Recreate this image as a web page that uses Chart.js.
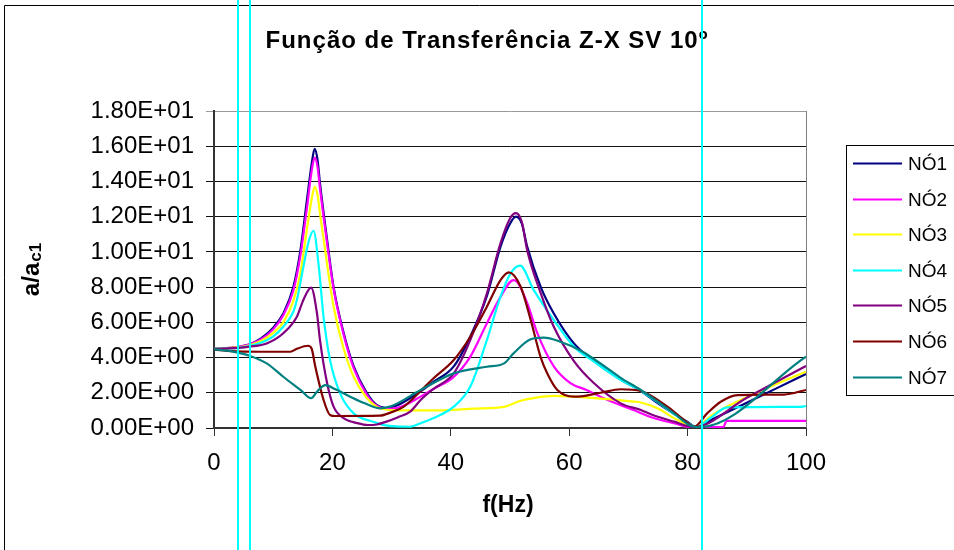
<!DOCTYPE html>
<html>
<head>
<meta charset="utf-8">
<script src="https://cdn.jsdelivr.net/npm/chart.js@4.4.1/dist/chart.umd.min.js"></script>
<style>
  html, body { margin: 0; padding: 0; background: #fff; }
  canvas { display: block; }
</style>
</head>
<body>
<canvas id="tf-chart" width="954" height="550"></canvas>
<script>
// frequency (Hz) / amplitude ratio pairs
const no1 = [[0,4.5],[4,4.6],[6,4.75],[8,5.1],[10,5.7],[11.7,6.5],[13.4,8.0],[14.6,10.1],[15.7,12.95],[16.5,15.0],[17,15.85],[17.5,15.2],[17.9,13.9],[19.1,10.7],[20.2,8.0],[21.9,5.4],[23.6,3.5],[25.8,2.0],[27.5,1.3],[29,1.15],[31,1.3],[34.3,1.95],[37,2.6],[40.5,3.5],[43.3,5.2],[46.1,7.5],[48.4,10.3],[50,11.6],[51,12.0],[52,11.6],[52.9,10.3],[55.2,8.0],[57.4,6.5],[60.8,4.8],[64.2,3.8],[68.7,2.75],[72.1,2.1],[75,1.4],[77.7,0.8],[80,0.35],[81.5,0.05],[84,0.46],[90,1.44],[95,2.25],[100,3.07]];
const no2 = [[0,4.5],[4,4.6],[6,4.75],[8,5.05],[10,5.6],[11.7,6.4],[13.4,7.8],[14.6,9.8],[15.7,12.5],[16.5,14.6],[17,15.35],[17.5,14.8],[17.9,13.6],[19.1,10.5],[20.2,7.9],[21.9,5.3],[23.6,3.4],[25.8,1.9],[27.5,1.25],[29,1.1],[31,1.15],[34.9,1.78],[37,2.2],[40.5,2.9],[43.3,4.05],[46.1,5.95],[48.4,7.45],[50.6,8.4],[51.3,8.25],[52.9,7.1],[54.6,5.4],[57.4,3.5],[60.2,2.55],[63,2.15],[66.4,1.6],[70.9,1.02],[74,0.6],[77.7,0.27],[80.5,0.05],[86,0.05],[86.6,0.4],[100,0.4]];
const no3 = [[0,4.5],[4,4.58],[6,4.7],[8,4.95],[10,5.4],[11.7,6.0],[13.4,7.2],[14.6,8.8],[15.7,11.3],[16.5,13.0],[17,13.7],[17.5,13.2],[17.9,12.2],[19.1,9.3],[20.2,6.9],[21.9,4.5],[23.6,2.9],[25.8,1.7],[27.5,1.2],[29,1.05],[32,1.0],[38,1.0],[44,1.1],[49,1.2],[51.8,1.55],[54,1.7],[57.4,1.82],[64.2,1.7],[70.9,1.5],[72.1,1.45],[74.9,1.12],[78.3,0.45],[81.3,0.05],[84,0.7],[86,1.1],[90,1.75],[95,2.5],[100,3.2]];
const no4 = [[0,4.5],[4,4.55],[6,4.65],[8,4.85],[10,5.2],[11.7,5.75],[13.4,6.6],[14,7.27],[15.1,9.16],[16,10.6],[16.8,11.2],[17.7,9.16],[18.5,6.32],[19.6,3.86],[21.3,1.97],[23.6,0.83],[26.9,0.36],[29,0.15],[33,0.07],[34.9,0.27],[37,0.55],[40.5,1.21],[43.3,2.35],[46.1,5.0],[48.4,7.46],[50.1,8.78],[51.7,9.22],[54,7.84],[57.4,6.13],[60.8,4.62],[64.2,3.77],[68.7,2.73],[72.1,2.1],[75,1.45],[77.7,0.8],[80,0.3],[81.5,0.05],[84,0.6],[86.7,1.17],[99,1.2],[100,1.25]];
const no5 = [[0,4.5],[4,4.55],[6,4.62],[8.9,4.8],[11.7,5.38],[14,6.32],[15.1,7.27],[16.4,7.97],[17.4,6.5],[17.9,5.0],[19.1,2.55],[20.2,1.21],[21.9,0.56],[24.2,0.28],[26,0.17],[27.5,0.2],[29,0.35],[31,0.6],[33.2,0.95],[34.9,1.59],[37,2.2],[40.5,3.1],[43.3,5.0],[46.1,7.65],[48.4,10.5],[50,11.9],[51,12.2],[52,11.7],[52.9,10.1],[55.2,7.65],[57.4,5.75],[60.8,3.8],[64.2,2.54],[68.7,1.4],[72.1,1.02],[74,0.75],[77.7,0.36],[81,0.05],[90,1.72],[100,3.52]];
const no6 = [[0,4.45],[3,4.36],[8,4.33],[12.9,4.33],[14,4.5],[15.9,4.67],[16.5,4.5],[17.1,3.5],[18.5,1.6],[19.6,0.74],[20.5,0.68],[28,0.7],[30,0.9],[32,1.2],[34.9,2.1],[37,2.8],[40.5,3.86],[43.3,5.18],[46.1,6.89],[48.4,8.4],[49.8,8.84],[51.8,8.02],[53.5,6.13],[55.2,4.0],[56.3,3.1],[58,2.16],[60.8,1.78],[62,1.8],[65.3,2.0],[68.7,2.2],[72.1,2.1],[76.6,1.21],[79.4,0.45],[81.1,0.08],[83.3,0.83],[85.6,1.49],[88.4,1.87],[96.3,1.9],[100,2.16]];
const no7 = [[0,4.47],[3,4.35],[6.1,4.09],[8.9,3.67],[11.7,2.91],[14.6,2.16],[16.4,1.69],[17.5,2.1],[18.8,2.44],[20.5,2.2],[23,1.78],[25.5,1.4],[28.1,1.12],[30,1.25],[34.9,2.16],[40.5,3.1],[46.1,3.48],[49,3.67],[50.6,4.24],[53.5,5.04],[55.7,5.13],[58.5,4.9],[61.9,4.4],[66.4,3.4],[68.7,2.85],[72.1,2.16],[77.7,0.83],[80.5,0.13],[82,0.05],[100,4.05]];

const seriesNames = ['NÓ1', 'NÓ2', 'NÓ3', 'NÓ4', 'NÓ5', 'NÓ6', 'NÓ7'];
const seriesData = [no1, no2, no3, no4, no5, no6, no7];
const seriesColors = ['#000080', '#FF00FF', '#FFFF00', '#00FFFF', '#800080', '#800000', '#008080'];
const markerFreqs = [4.05, 6.1, 82.45]; // vertical cyan lines (Hz)

const chartTitle = 'Função de Transferência Z-X SV 10º';
const FONT = '"Liberation Sans", Arial, sans-serif';

function fmtExp(v) {
    if (v === 0) return '0.00E+00';
    const e = Math.floor(Math.log10(Math.abs(v)) + 1e-9);
    const m = v / Math.pow(10, e);
    return m.toFixed(2) + 'E' + (e < 0 ? '-' : '+') + String(Math.abs(e)).padStart(2, '0');
}

const decor = {
    id: 'decor',
    afterDraw(chart) {
        const { ctx, chartArea: a, scales: { x } } = chart;
        ctx.save();

        // plot area right edge
        ctx.strokeStyle = '#808080';
        ctx.lineWidth = 1;
        ctx.beginPath();
        ctx.moveTo(a.right + 0.5, a.top);
        ctx.lineTo(a.right + 0.5, a.bottom);
        ctx.stroke();

        // outer frame (top + left)
        ctx.strokeStyle = '#000';
        ctx.beginPath();
        ctx.moveTo(4.5, 550);
        ctx.lineTo(4.5, 5.5);
        ctx.lineTo(954, 5.5);
        ctx.stroke();

        // titles
        ctx.fillStyle = '#000';
        ctx.textAlign = 'center';
        ctx.textBaseline = 'middle';
        ctx.font = 'bold 24px ' + FONT;
        ctx.letterSpacing = '1px';
        ctx.fillText(chartTitle, 487, 41);
        ctx.letterSpacing = '0px';
        ctx.font = 'bold 23px ' + FONT;
        ctx.fillText('f(Hz)', 508, 506);

        // y title a/a_c1, rotated
        ctx.save();
        ctx.translate(32, 270);
        ctx.rotate(-Math.PI / 2);
        ctx.textAlign = 'left';
        ctx.textBaseline = 'middle';
        ctx.font = 'bold 24px ' + FONT;
        const w1 = ctx.measureText('a/a').width;
        ctx.font = 'bold 17px ' + FONT;
        const w2 = ctx.measureText('c1').width;
        const start = -(w1 + w2) / 2;
        ctx.font = 'bold 24px ' + FONT;
        ctx.fillText('a/a', start, 0);
        ctx.font = 'bold 17px ' + FONT;
        ctx.fillText('c1', start + w1 + 1, 4);
        ctx.restore();

        // legend
        ctx.strokeStyle = '#000';
        ctx.lineWidth = 1;
        ctx.strokeRect(846.5, 145.5, 130, 250);
        ctx.font = '19px ' + FONT;
        ctx.textAlign = 'left';
        ctx.textBaseline = 'middle';
        chart.data.datasets.forEach((ds, i) => {
            const y = Math.round(163 + i * 35.6) + 0.5;
            ctx.strokeStyle = ds.borderColor;
            ctx.lineWidth = 2;
            ctx.beginPath();
            ctx.moveTo(853, y);
            ctx.lineTo(902, y);
            ctx.stroke();
            ctx.fillStyle = '#000';
            ctx.fillText(ds.label, 908, y + 1);
        });

        // vertical marker lines, full height
        ctx.strokeStyle = '#00FFFF';
        ctx.lineWidth = 2;
        markerFreqs.forEach(f => {
            const px = Math.round(x.getPixelForValue(f));
            ctx.beginPath();
            ctx.moveTo(px, 0);
            ctx.lineTo(px, 550);
            ctx.stroke();
        });

        ctx.restore();
    },
};

Chart.defaults.font.family = FONT;

new Chart(document.getElementById('tf-chart'), {
    type: 'line',
    data: {
        datasets: seriesData.map((pts, i) => ({
            label: seriesNames[i],
            data: pts.map(([f, v]) => ({ x: f, y: v })),
            borderColor: seriesColors[i],
            backgroundColor: seriesColors[i],
            borderWidth: 2.2,
            pointRadius: 0,
            cubicInterpolationMode: 'monotone',
            fill: false,
            order: seriesData.length - i,
        })),
    },
    options: {
        responsive: false,
        animation: false,
        events: [],
        layout: { padding: { top: 111, right: 148, left: 0, bottom: 0 } },
        plugins: {
            legend: { display: false },
            title: { display: false },
            tooltip: { enabled: false },
        },
        scales: {
            x: {
                type: 'linear',
                min: 0,
                max: 100,
                ticks: { stepSize: 20, color: '#000', font: { size: 24 }, padding: 13, maxRotation: 0 },
                grid: { drawOnChartArea: false, tickLength: 8, color: '#333' },
                border: { color: '#333', width: 2 },
                afterFit: s => { s.height = 122; },
            },
            y: {
                min: 0,
                max: 18,
                ticks: { stepSize: 2, callback: v => fmtExp(v), color: '#000', font: { size: 24 }, padding: 12 },
                grid: {
                    color: c => (c.tick && c.tick.value === 18) ? '#999' : '#111',
                    tickLength: 8,
                    lineWidth: 1,
                },
                border: { color: '#333', width: 2 },
                afterFit: s => { s.width = 214; },
            },
        },
    },
    plugins: [decor],
});
</script>
</body>
</html>
